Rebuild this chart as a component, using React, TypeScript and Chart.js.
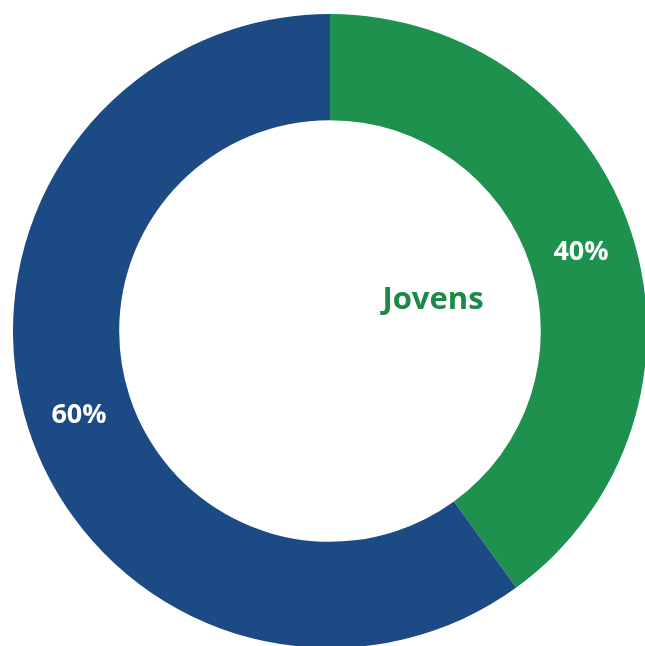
import React, { useEffect, useRef } from "react";
import { Chart, registerables } from "chart.js";

Chart.register(...registerables);

const categories = ["Jovens", "Outros"];
const values = [40, 60];
const valueLabels = ["40%", "60%"];
const colors = ["#1f914f", "#1c4a84"];
const centerTitle = "Jovens";

export default function App() {
  const ref = useRef<HTMLCanvasElement | null>(null);

  useEffect(() => {
    document.body.style.overflow = "hidden";
    if (!ref.current) return;
    const labelPlugin = {
      id: "labels",
      afterDatasetsDraw(chart: any) {
        const ctx = chart.ctx;
        const meta = chart.getDatasetMeta(0);
        ctx.save();
        ctx.textAlign = "center";
        ctx.textBaseline = "middle";
        ctx.fillStyle = "#ffffff";
        ctx.font = "bold 27px 'Open Sans', sans-serif";
        meta.data.forEach((arc: any, i: number) => {
          const p = arc.tooltipPosition();
          ctx.fillText(valueLabels[i], p.x, p.y + 3);
        });
        const ca = chart.chartArea;
        const cx = (ca.left + ca.right) / 2;
        const cy = (ca.top + ca.bottom) / 2;
        ctx.fillStyle = "#1b8a47";
        ctx.font = "bold 31px 'Open Sans', sans-serif";
        ctx.fillText(centerTitle, cx + 103, cy - 31);
        ctx.restore();
      },
    };
    const chart = new Chart(ref.current, {
      type: "doughnut",
      data: {
        labels: categories,
        datasets: [
          {
            data: values,
            backgroundColor: colors,
            borderWidth: 0,
          },
        ],
      },
      options: {
        responsive: false,
        animation: false,
        cutout: "66.5%",
        layout: { padding: 0 },
        plugins: {
          legend: { display: false },
          tooltip: { enabled: false },
        },
      },
      plugins: [labelPlugin],
    });
    return () => chart.destroy();
  }, []);

  return (
    <div
      style={{
        position: "fixed",
        left: 0,
        top: 0,
        width: 645,
        height: 646,
        overflow: "hidden",
        background: "#ffffff",
      }}
    >
      <canvas
        ref={ref}
        width={634}
        height={634}
        style={{ position: "absolute", left: 12.5, top: 14, width: 634, height: 634 }}
      />
    </div>
  );
}
